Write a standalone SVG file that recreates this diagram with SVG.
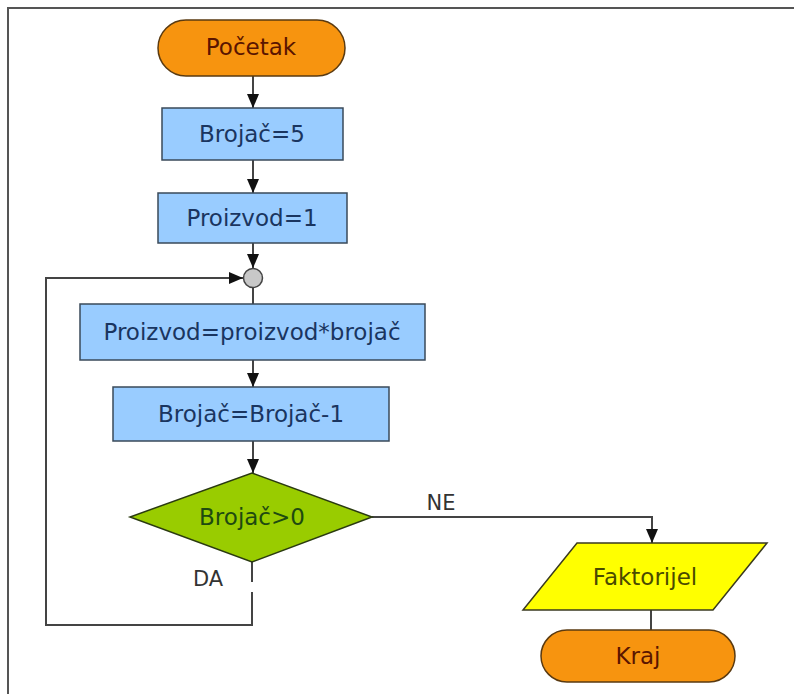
<svg xmlns="http://www.w3.org/2000/svg" width="794" height="694" viewBox="0 0 794 694">
<defs>
<marker id="ah" viewBox="0 0 14 12" refX="14" refY="6" markerWidth="14" markerHeight="12" markerUnits="userSpaceOnUse" orient="auto">
<path d="M0,0 L14,6 L0,12 z" fill="#111"/>
</marker>
<style>
.t{font-family:"DejaVu Sans","Liberation Sans",sans-serif;font-size:23px;text-anchor:middle;dominant-baseline:central}
.term{fill:#F7940F;stroke:#5a3a10;stroke-width:1.5}
.proc{fill:#99CCFF;stroke:#3a4a5a;stroke-width:1.5}
.dec{fill:#99CC00;stroke:#2a3a10;stroke-width:1.5}
.io{fill:#FFFF00;stroke:#3a3a20;stroke-width:1.5}
.c{fill:none;stroke:#444;stroke-width:2}
.lbl{font-family:"DejaVu Sans","Liberation Sans",sans-serif;font-size:21px;fill:#333;text-anchor:middle;dominant-baseline:central}
</style>
</defs>
<rect x="0" y="0" width="794" height="694" fill="#fff"/>
<path d="M8,694 L8,8 L794,8" fill="none" stroke="#555" stroke-width="2"/>
<g id="connectors">
<path class="c" d="M253,76 L253,108" marker-end="url(#ah)"/>
<path class="c" d="M253,160 L253,193" marker-end="url(#ah)"/>
<path class="c" d="M253,243 L253,268" marker-end="url(#ah)"/>
<path class="c" d="M253,287 L253,304"/>
<path class="c" d="M253,360 L253,387" marker-end="url(#ah)"/>
<path class="c" d="M253,441 L253,473" marker-end="url(#ah)"/>
<path class="c" d="M372,517 L652,517 L652,543" marker-end="url(#ah)"/>
<path class="c" d="M252,562 L252,582"/>
<path class="c" d="M252,592 L252,625 L46,625 L46,278 L243,278" marker-end="url(#ah)"/>
<path class="c" d="M651,610 L651,630"/>
</g>
<g id="start"><rect class="term" x="158" y="20" width="187" height="56" rx="28"/><text class="t" x="251" y="47" fill="#5a1500">Početak</text></g>
<g id="brojac5"><rect class="proc" x="162" y="108" width="181" height="52"/><text class="t" x="252" y="134" fill="#1a3560">Brojač=5</text></g>
<g id="proizvod1"><rect class="proc" x="158" y="193" width="189" height="50"/><text class="t" x="252" y="218" fill="#1a3560">Proizvod=1</text></g>
<g id="join"><circle cx="253" cy="278" r="9.5" fill="#c8c8c8" stroke="#444" stroke-width="1.5"/></g>
<g id="mult"><rect class="proc" x="80" y="304" width="345" height="56"/><text class="t" x="252" y="332" fill="#1a3560">Proizvod=proizvod*brojač</text></g>
<g id="dec1"><rect class="proc" x="113" y="387" width="276" height="54"/><text class="t" x="251" y="414" fill="#1a3560">Brojač=Brojač-1</text></g>
<g id="cond"><polygon class="dec" points="252,473 372,517 252,562 130,517"/><text class="t" x="252" y="517" fill="#1e4a10">Brojač&gt;0</text></g>
<text class="lbl" x="441" y="503">NE</text>
<text class="lbl" x="208" y="579">DA</text>
<g id="output"><polygon class="io" points="577,543 767,543 713,610 523,610"/><text class="t" x="645" y="577" fill="#4a4a00">Faktorijel</text></g>
<g id="end"><rect class="term" x="541" y="630" width="194" height="52" rx="26"/><text class="t" x="638" y="656" fill="#5a1500">Kraj</text></g>
</svg>
